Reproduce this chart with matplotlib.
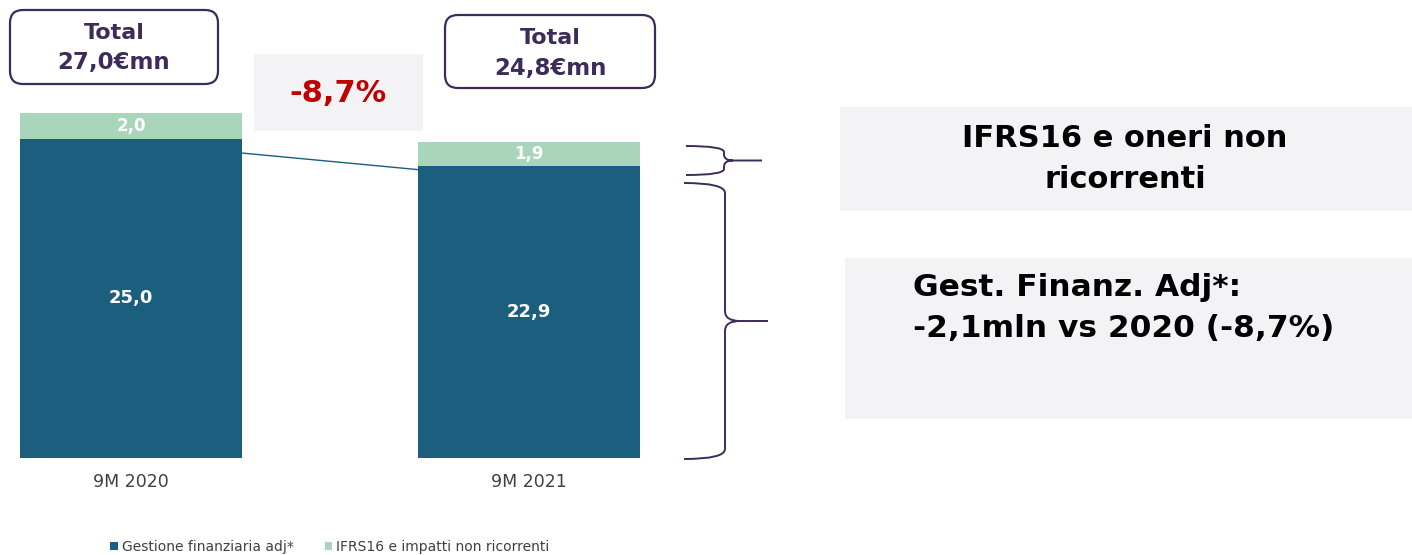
import matplotlib
matplotlib.use('Agg')
import matplotlib.pyplot as plt
from matplotlib.patches import FancyBboxPatch, Rectangle, PathPatch
from matplotlib.path import Path

categories = ['9M 2020', '9M 2021']
gestione_adj = [25.0, 22.9]
ifrs16 = [2.0, 1.9]
totals = [27.0, 24.8]
change_label = '-8,7%'
legend_labels = ['Gestione finanziaria adj*', 'IFRS16 e impatti non ricorrenti']
note_top = 'IFRS16 e oneri non\nricorrenti'
note_bottom = 'Gest. Finanz. Adj*:\n-2,1mln vs 2020 (-8,7%)'

DARK = '#1b5e7e'
LIGHT = '#a9d6bb'
PURPLE = '#3d2c5a'
PANEL = '#f3f3f5'
W, H = 1412, 555


def fmt(v):
    return f'{v:.1f}'.replace('.', ',')


def px(x, y):
    # pixel position (from top-left) -> inches for dpi_scale_trans
    return x / 100, (H - y) / 100


def brace(fig, x0, y_top, y_bot, x_mid, x_tip, r):
    y_c = (y_top + y_bot) / 2
    pts = [px(x0, y_top), px(x_mid, y_top), px(x_mid, y_top + r),
           px(x_mid, y_c - r), px(x_mid, y_c), px(x_mid + r * 1.5, y_c),
           px(x_tip, y_c),
           px(x_mid + r * 1.5, y_c), px(x_mid, y_c), px(x_mid, y_c + r),
           px(x_mid, y_bot - r), px(x_mid, y_bot), px(x0, y_bot)]
    codes = [Path.MOVETO, Path.CURVE3, Path.CURVE3,
             Path.LINETO, Path.CURVE3, Path.CURVE3,
             Path.LINETO,
             Path.MOVETO, Path.CURVE3, Path.CURVE3,
             Path.LINETO, Path.CURVE3, Path.CURVE3]
    fig.add_artist(PathPatch(Path(pts, codes), transform=fig.dpi_scale_trans,
                             fill=False, edgecolor=PURPLE, lw=1.4))


fig = plt.figure(figsize=(W / 100, H / 100), dpi=100)

# axes: bars centred at 131 and 529 px, base at 458 px
ax = fig.add_axes([0, (H - 458) / H, 700 / W, 458 / H])
x = [0, 1]
width = 0.558
ax.bar(x, gestione_adj, width, color=DARK, label=legend_labels[0])
ax.bar(x, ifrs16, width, bottom=gestione_adj, color=LIGHT, label=legend_labels[1])
ax.set_xlim(-131 / 398, (700 - 131) / 398)
ax.set_ylim(0, 458 / 12.76)

for i in x:
    ax.text(i, gestione_adj[i] / 2, fmt(gestione_adj[i]), ha='center', va='center',
            color='white', fontsize=13, fontweight='bold')
    ax.text(i, gestione_adj[i] + ifrs16[i] / 2, fmt(ifrs16[i]), ha='center', va='center',
            color='white', fontsize=12, fontweight='bold')

# connector between the two dark bars
ax.plot([width / 2, 1 - width / 2], [gestione_adj[0] - 1.1, gestione_adj[1] - 0.3],
        color=DARK, lw=1)

ax.set_xticks(x)
ax.set_xticklabels(categories, fontsize=12.5, color='#404040')
ax.tick_params(axis='x', length=0, pad=11)
ax.set_yticks([])
for s in ax.spines.values():
    s.set_visible(False)

ax.legend(loc='center', bbox_to_anchor=(330 / 700, (458 - 547) / 458), ncol=2,
          frameon=False, fontsize=10, labelcolor='#404040', handlelength=0.55,
          handleheight=0.55, handletextpad=0.3, columnspacing=2.2)

# total boxes
for (bx, by, bw, bh), t in zip([(10, 84, 208, 74), (445, 88, 210, 73)], totals):
    x0, y0 = px(bx, by)
    fig.add_artist(FancyBboxPatch((x0, y0), bw / 100, bh / 100,
                                  boxstyle='round,pad=0,rounding_size=0.13',
                                  transform=fig.dpi_scale_trans,
                                  facecolor='white', edgecolor=PURPLE, lw=1.6))
    cx = (bx + bw / 2) / W
    fig.text(cx, 1 - (by - bh + 23) / H, 'Total', ha='center', va='center',
             color=PURPLE, fontsize=16, fontweight='bold')
    fig.text(cx, 1 - (by - bh + 53) / H, fmt(t) + '€mn', ha='center', va='center',
             color=PURPLE, fontsize=16.5, fontweight='bold')

# change box
fig.add_artist(Rectangle((254 / W, 1 - 131 / H), 169 / W, 77 / H,
                         transform=fig.transFigure, facecolor=PANEL, edgecolor='none'))
fig.text(338 / W, 1 - 94 / H, change_label, ha='center', va='center',
         color='#c00000', fontsize=22, fontweight='bold')

# right-hand notes
fig.add_artist(Rectangle((840 / W, 1 - 211 / H), 572 / W, 104 / H,
                         transform=fig.transFigure, facecolor=PANEL, edgecolor='none'))
fig.text(1125 / W, 1 - 159 / H, note_top, ha='center', va='center',
         fontsize=22, fontweight='bold', color='black', linespacing=1.55)
fig.add_artist(Rectangle((845 / W, 1 - 419 / H), 567 / W, 161 / H,
                         transform=fig.transFigure, facecolor=PANEL, edgecolor='none'))
fig.text(913 / W, 1 - 308 / H, note_bottom, ha='left', va='center',
         fontsize=22.5, fontweight='bold', color='black', linespacing=1.55)

brace(fig, 686, 146, 175, 724, 762, 6)
brace(fig, 684, 183, 459, 725, 768, 10)

fig.savefig('out.png', dpi=100)
